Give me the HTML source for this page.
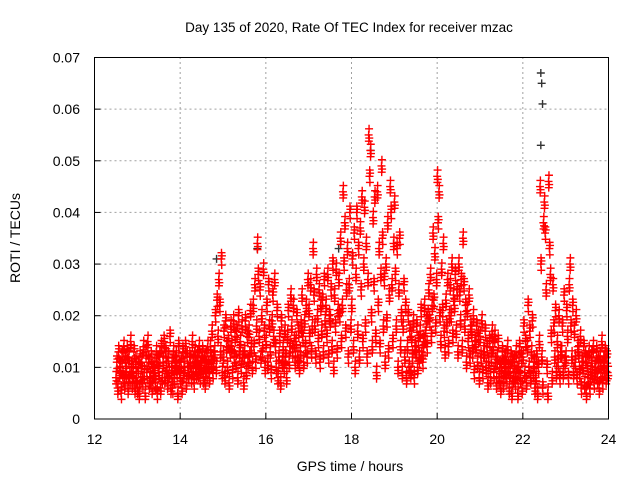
<!DOCTYPE html>
<html><head><meta charset="utf-8"><style>
body{margin:0;background:#fff}
svg{display:block;font-family:"Liberation Sans",sans-serif}
</style></head><body>
<svg id="chart" width="640" height="480" viewBox="0 0 640 480">
<rect width="640" height="480" fill="#fff"/>
<text x="349" y="32" font-size="13.5" text-anchor="middle">Day 135 of 2020, Rate Of TEC Index for receiver mzac</text>
<text x="350" y="471" font-size="14" text-anchor="middle">GPS time / hours</text>
<text x="20" y="238" font-size="14" text-anchor="middle" transform="rotate(-90 20 238)">ROTI / TECUs</text>
<g id="grid"></g>
<g id="ticks"></g>
<g id="marks"></g>
<rect x="94.5" y="57.5" width="514" height="361.5" fill="none" stroke="#000" stroke-width="1"/>
</svg>
<script>
const xTicks=[12,14,16,18,20,22,24];
const yTicks=[0,0.01,0.02,0.03,0.04,0.05,0.06,0.07];
const yTickLabels=["0","0.01","0.02","0.03","0.04","0.05","0.06","0.07"];
const binTimes=[12.5,12.6,12.7,12.8,12.9,13.0,13.1,13.2,13.3,13.4,13.5,13.6,13.7,13.8,13.9,14.0,14.1,14.2,14.3,14.4,14.5,14.6,14.7,14.8,14.9,15.0,15.1,15.2,15.3,15.4,15.5,15.6,15.7,15.8,15.9,16.0,16.1,16.2,16.3,16.4,16.5,16.6,16.7,16.8,16.9,17.0,17.1,17.2,17.3,17.4,17.5,17.6,17.7,17.8,17.9,18.0,18.1,18.2,18.3,18.4,18.5,18.6,18.7,18.8,18.9,19.0,19.1,19.2,19.3,19.4,19.5,19.6,19.7,19.8,19.9,20.0,20.1,20.2,20.3,20.4,20.5,20.6,20.7,20.8,20.9,21.0,21.1,21.2,21.3,21.4,21.5,21.6,21.7,21.8,21.9,22.0,22.1,22.2,22.3,22.4,22.5,22.6,22.7,22.8,22.9,23.0,23.1,23.2,23.3,23.4,23.5,23.6,23.7,23.8,23.9];
const rotiMilli=[[8,11,6,13,9],[10,5,12,8,14],[7,11,9,13,6],[12,8,15,10,7],[9,13,6,11,8],[6,10,5,12,8],[11,7,14,9,5],[13,9,15,11,7],[8,12,6,10,9],[10,7,13,5,11],[9,12,6,14,8],[11,15,8,13,10],[7,12,9,16,6],[10,6,13,8,11],[12,9,5,14,10],[8,11,6,13,9],[10,14,7,12,9],[9,12,11,8,15],[11,7,13,10,9],[12,9,14,8,11],[10,13,8,11,7],[12,9,14,10,8],[14,11,17,9,12],[13,20,10,23,16],[27,22,13,31,9],[12,17,8,19,14],[10,15,7,13,18],[14,9,19,12,16],[11,17,8,20,13],[15,10,18,12,7],[13,19,9,16,11],[17,12,21,14,10],[22,14,26,11,18],[34,28,16,25,12],[20,13,29,17,10],[15,22,11,26,18],[13,9,19,24,16],[27,14,10,21,8],[12,16,7,19,11],[14,10,17,12,8],[16,21,11,14,24],[18,13,22,15,11],[15,20,12,17,10],[13,18,24,16,11],[19,14,22,12,27],[21,16,26,13,18],[33,24,18,12,28],[20,15,25,11,22],[17,23,13,27,19],[22,16,28,12,20],[19,25,14,30,10],[24,18,29,13,21],[27,20,35,15,22],[44,30,38,17,25],[33,12,26,40,18],[22,31,14,36,10],[28,40,17,33,12],[37,25,43,15,30],[41,18,34,12,27],[55,47,52,20,14],[39,26,43,16,9],[44,22,33,14,28],[49,35,18,27,11],[30,19,38,13,24],[45,40,26,15,34],[42,28,18,33,10],[25,35,14,20,9],[18,26,12,22,8],[14,20,10,17,9],[16,12,19,8,14],[13,18,10,15,12],[17,21,13,11,15],[22,16,19,14,20],[25,19,28,16,22],[36,23,32,18,27],[47,38,44,20,15],[29,21,34,17,13],[23,18,27,14,20],[26,20,30,16,24],[22,28,17,25,13],[30,24,19,27,14],[35,26,18,22,11],[21,15,24,12,18],[17,13,20,9,15],[14,18,11,16,8],[16,12,19,9,13],[13,17,10,14,7],[11,15,8,12,17],[14,9,16,11,7],[12,15,8,10,6],[10,13,7,11,9],[12,8,14,10,6],[9,12,5,11,8],[11,7,13,9,5],[10,14,8,12,6],[12,18,9,15,7],[14,22,10,17,8],[13,19,9,11,6],[8,12,5,10,15],[45,30,12,6,38],[42,36,25,10,5],[46,33,28,16,8],[26,18,12,21,9],[15,11,20,8,13],[13,18,9,24,11],[12,21,16,8,26],[30,18,12,22,9],[17,11,20,8,14],[13,9,16,6,11],[10,14,7,12,5],[11,8,13,6,9],[12,9,14,7,10],[10,13,8,11,6],[12,9,15,7,11],[10,13,8,12,9]];
const otherTimes=[14.85,15.8,17.7,18.45,22.42,22.44,22.46,22.42];
const otherRoti=[0.031,0.033,0.033,0.052,0.067,0.065,0.061,0.053];

const NS="http://www.w3.org/2000/svg";
const X0=94.5,X1=608.5,Y0=419,Y1=57.5;
function xs(t){return X0+(t-12)/12*(X1-X0);}
function ys(v){return Y0-v/0.07*(Y0-Y1);}
function el(tag,attrs,parent){const e=document.createElementNS(NS,tag);for(const k in attrs)e.setAttribute(k,attrs[k]);parent.appendChild(e);return e;}
const grid=document.getElementById('grid'),ticks=document.getElementById('ticks'),marks=document.getElementById('marks');
xTicks.forEach((t,i)=>{
 const x=xs(t);
 if(i>0&&i<xTicks.length-1){const g=el('line',{x1:x,x2:x,y1:Y0,y2:Y1,stroke:'#a0a0a0','stroke-dasharray':'2,3'},grid);
 
 }
 const tk=el('line',{x1:x,x2:x,y1:Y0,y2:Y0-6,stroke:'#000'},ticks);
 
 
 const lb=el('text',{x:x,y:444,'font-size':14,'text-anchor':'middle'},ticks);lb.textContent=t;
 
 
});
yTicks.forEach((v,i)=>{
 const y=ys(v);
 if(i>0&&i<yTicks.length-1){const g=el('line',{x1:X0,x2:X1,y1:y,y2:y,stroke:'#a0a0a0','stroke-dasharray':'2,3'},grid);
 
 }
 const tk=el('line',{x1:X0,x2:X0+6,y1:y,y2:y,stroke:'#000'},ticks);
 
 
 const lb=el('text',{x:80,y:y+5,'font-size':14,'text-anchor':'end'},ticks);lb.textContent=yTickLabels[i];
 
 
});
function plus(t,v,color,name){
 const x=xs(t),y=ys(v);
 const p=el('path',{d:`M${x-4},${y}H${x+4}M${x},${y-4}V${y+4}`,stroke:color,'stroke-width':1.4,fill:'none'},marks);
 
 
}
otherTimes.forEach((t,i)=>plus(t,otherRoti[i],'#333','roti-point-dark'));
const jitterX=[0,0.01,0.005,0.015];
const jitterY=[0,-2,2,1];
binTimes.forEach((t,i)=>{
 rotiMilli[i].forEach((m,k)=>{
  jitterX.forEach((dx,j)=>{
   plus(t+k*0.02+dx,(m+jitterY[j]*(k%2?1:-1)*0.6)/1000,'#ff0000','roti-point');
  });
 });
});
</script>
</body></html>
